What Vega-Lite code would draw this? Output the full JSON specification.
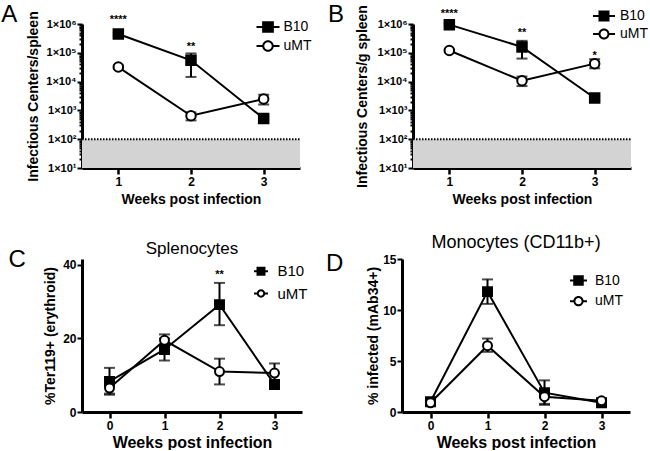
{
"$schema":"https://vega.github.io/schema/vega-lite/v6.json",
"padding":{"left":1,"top":2,"right":0,"bottom":0},
"config":{"view":{"stroke":null},"font":"Liberation Sans",
"axis":{"domainColor":"black","domainWidth":3,"tickColor":"black","tickWidth":2.5,"labelColor":"black","titleColor":"black","labelFont":"Liberation Sans","titleFont":"Liberation Sans","labelFontWeight":"bold","titleFontWeight":"bold","grid":false,"labelFontSize":11,"titleFontSize":14,"labelOverlap":false,"labelBound":false},
"legend":{"labelFont":"Liberation Sans","labelColor":"black","symbolStrokeWidth":0,"symbolFillColor":"black","symbolOpacity":1}},
"datasets":{
"A":[{"week":1,"group":"B10","mean":450000,"lo":390000,"hi":510000},{"week":2,"group":"B10","mean":55000,"lo":14500,"hi":95000},{"week":3,"group":"B10","mean":520,"lo":450,"hi":600},
{"week":1,"group":"uMT","mean":32000,"lo":28000,"hi":36000},{"week":2,"group":"uMT","mean":650,"lo":450,"hi":850},{"week":3,"group":"uMT","mean":2500,"lo":1600,"hi":3500}],
"B":[{"week":1,"group":"B10","mean":950000,"lo":850000,"hi":1050000},{"week":2,"group":"B10","mean":160000,"lo":63000,"hi":260000},{"week":3,"group":"B10","mean":2700,"lo":2300,"hi":3100},
{"week":1,"group":"uMT","mean":120000,"lo":110000,"hi":130000},{"week":2,"group":"uMT","mean":10700,"lo":7000,"hi":15000},{"week":3,"group":"uMT","mean":42000,"lo":29000,"hi":60000}],
"C":[{"week":0,"group":"B10","mean":8.3,"lo":4.7,"hi":12.0},{"week":1,"group":"B10","mean":17.0,"lo":14.0,"hi":20.0},{"week":2,"group":"B10","mean":29.2,"lo":23.6,"hi":35.1},{"week":3,"group":"B10","mean":7.5,"lo":6.7,"hi":8.3},
{"week":0,"group":"uMT","mean":6.5,"lo":5.0,"hi":8.0},{"week":1,"group":"uMT","mean":19.5,"lo":18.0,"hi":21.1},{"week":2,"group":"uMT","mean":11.0,"lo":7.5,"hi":14.5},{"week":3,"group":"uMT","mean":10.6,"lo":8.2,"hi":13.2}],
"D":[{"week":0,"group":"B10","mean":1.0,"lo":0.8,"hi":1.2},{"week":1,"group":"B10","mean":11.8,"lo":10.6,"hi":13.0},{"week":2,"group":"B10","mean":1.9,"lo":0.7,"hi":3.1},{"week":3,"group":"B10","mean":0.9,"lo":0.7,"hi":1.1},
{"week":0,"group":"uMT","mean":0.9,"lo":0.7,"hi":1.1},{"week":1,"group":"uMT","mean":6.5,"lo":5.9,"hi":7.2},{"week":2,"group":"uMT","mean":1.5,"lo":0.8,"hi":2.2},{"week":3,"group":"uMT","mean":1.1,"lo":0.8,"hi":1.3}],
"stars":[{"panel":"A","week":1,"y":1350000,"label":"****"},{"panel":"A","week":2,"y":160000,"label":"**"},{"panel":"B","week":1,"y":2200000,"label":"****"},{"panel":"B","week":2,"y":490000,"label":"**"},{"panel":"B","week":3,"y":79000,"label":"*"},{"panel":"C","week":2,"y":37.3,"label":"**"}]
},
"spacing":28,
"resolve":{"scale":{"shape":"independent","fill":"independent"},"legend":{"shape":"independent","fill":"independent"}},
"vconcat":[
{"hconcat":[
{"width":218,"height":144,"data":{"name":"A"},
"resolve":{"scale":{"shape":"independent"},"legend":{"shape":"independent"}},
"layer":[
{"data":{"values":[{"from":0.5,"to":3.5,"floor":10,"limit":100}]},
 "layer":[
 {"mark":{"type":"rect","color":"#d3d3d3"},"encoding":{"x":{"field":"from","type":"quantitative"},"x2":{"field":"to"},"y":{"field":"floor","type":"quantitative"},"y2":{"field":"limit"}}},
 {"mark":{"type":"rule","strokeDash":[1.5,1.5],"strokeWidth":2,"color":"black"},"encoding":{"x":{"field":"from","type":"quantitative"},"x2":{"field":"to"},"y":{"field":"limit","type":"quantitative"}}}
 ]},
{"mark":{"type":"line","color":"black","strokeWidth":2},"encoding":{
 "x":{"field":"week","type":"quantitative","scale":{"domain":[0.5,3.5],"nice":false,"zero":false},"axis":{"values":[1,2,3],"format":"d","title":"Weeks post infection","labelFontSize":12,"tickSize":6,"titlePadding":5}},
 "y":{"field":"mean","type":"quantitative","scale":{"type":"log","domain":[10,1000000],"nice":false},"axis":{"title":"Infectious Centers/spleen","values":[10,20,30,40,50,60,70,80,90,100,200,300,400,500,600,700,800,900,1000,2000,3000,4000,5000,6000,7000,8000,9000,10000,20000,30000,40000,50000,60000,70000,80000,90000,100000,200000,300000,400000,500000,600000,700000,800000,900000,1000000],"labelExpr":"abs(log(datum.value)/LN10 - round(log(datum.value)/LN10)) < 0.001 ? '1×10' + ['⁰','¹','²','³','⁴','⁵','⁶'][round(log(datum.value)/LN10)] : ''","labelFontSize":11,"labelPadding":1,"tickSize":{"condition":{"test":"abs(log(datum.value)/LN10 - round(log(datum.value)/LN10)) < 0.001","value":5},"value":3},"tickWidth":2,"titlePadding":5}},
 "detail":{"field":"group"}}},
{"mark":{"type":"rule","strokeWidth":2,"color":"black"},"encoding":{"x":{"field":"week","type":"quantitative"},"y":{"field":"lo","type":"quantitative"},"y2":{"field":"hi"}}},
{"mark":{"type":"tick","orient":"horizontal","size":11,"thickness":2,"color":"black"},"encoding":{"x":{"field":"week","type":"quantitative"},"y":{"field":"hi","type":"quantitative"}}},
{"mark":{"type":"tick","orient":"horizontal","size":11,"thickness":2,"color":"black"},"encoding":{"x":{"field":"week","type":"quantitative"},"y":{"field":"lo","type":"quantitative"}}},
{"mark":{"type":"point","filled":false,"opacity":1,"strokeWidth":2,"stroke":"black"},"encoding":{"x":{"field":"week","type":"quantitative"},"y":{"field":"mean","type":"quantitative"},
 "shape":{"field":"group","type":"nominal","scale":{"domain":["B10","uMT"],"range":["square","circle"]},"legend":null},
 "fill":{"field":"group","type":"nominal","scale":{"domain":["B10","uMT"],"range":["black","white"]},"legend":null},
 "size":{"value":90}}},
{"transform":[{"filter":"false"}],"mark":{"type":"point","filled":true,"color":"black","opacity":1},"encoding":{
 "shape":{"field":"group","type":"nominal","scale":{"domain":["B10","uMT"],"range":["M-1,-0.087H1V0.087H-1Z M-0.51,-0.51H0.51V0.51H-0.51Z","M-1,-0.087H-0.42V0.087H-1Z M0.42,-0.087H1V0.087H0.42Z M-0.5,0A0.5,0.5 0 1,1 0.5,0A0.5,0.5 0 1,1 -0.5,0Z M-0.326,0A0.326,0.326 0 1,0 0.326,0A0.326,0.326 0 1,0 -0.326,0Z"]},
 "legend":{"title":null,"orient":"none","legendX":174.5,"legendY":-8.5,"padding":0,"rowPadding":-2.3,"labelOffset":4,"labelFontSize":14,"symbolSize":529,"symbolFillColor":"black","symbolStrokeWidth":0}}}},
{"data":{"name":"stars"},"transform":[{"filter":"datum.panel === 'A'"}],"mark":{"type":"text","fontSize":11,"fontWeight":"bold","align":"center","baseline":"middle","color":"black"},"encoding":{"x":{"field":"week","type":"quantitative"},"y":{"field":"y","type":"quantitative"},"text":{"field":"label"}}},
{"data":{"values":[{"letter":"A"}]},"mark":{"type":"text","fontSize":24,"align":"center","baseline":"middle","color":"black"},"encoding":{"x":{"datum":-0.5},"y":{"datum":2100000},"text":{"field":"letter"}}}
]},
{"width":218,"height":144,"data":{"name":"B"},
"resolve":{"scale":{"shape":"independent"},"legend":{"shape":"independent"}},
"layer":[
{"data":{"values":[{"from":0.5,"to":3.5,"floor":10,"limit":100}]},
 "layer":[
 {"mark":{"type":"rect","color":"#d3d3d3"},"encoding":{"x":{"field":"from","type":"quantitative"},"x2":{"field":"to"},"y":{"field":"floor","type":"quantitative"},"y2":{"field":"limit"}}},
 {"mark":{"type":"rule","strokeDash":[1.5,1.5],"strokeWidth":2,"color":"black"},"encoding":{"x":{"field":"from","type":"quantitative"},"x2":{"field":"to"},"y":{"field":"limit","type":"quantitative"}}}
 ]},
{"mark":{"type":"line","color":"black","strokeWidth":2},"encoding":{
 "x":{"field":"week","type":"quantitative","scale":{"domain":[0.5,3.5],"nice":false,"zero":false},"axis":{"values":[1,2,3],"format":"d","title":"Weeks post infection","labelFontSize":12,"tickSize":6,"titlePadding":5}},
 "y":{"field":"mean","type":"quantitative","scale":{"type":"log","domain":[10,1000000],"nice":false},"axis":{"title":"Infectious Centers/g spleen","values":[10,20,30,40,50,60,70,80,90,100,200,300,400,500,600,700,800,900,1000,2000,3000,4000,5000,6000,7000,8000,9000,10000,20000,30000,40000,50000,60000,70000,80000,90000,100000,200000,300000,400000,500000,600000,700000,800000,900000,1000000],"labelExpr":"abs(log(datum.value)/LN10 - round(log(datum.value)/LN10)) < 0.001 ? '1×10' + ['⁰','¹','²','³','⁴','⁵','⁶'][round(log(datum.value)/LN10)] : ''","labelFontSize":11,"labelPadding":1,"tickSize":{"condition":{"test":"abs(log(datum.value)/LN10 - round(log(datum.value)/LN10)) < 0.001","value":5},"value":3},"tickWidth":2,"titlePadding":7}},
 "detail":{"field":"group"}}},
{"mark":{"type":"rule","strokeWidth":2,"color":"black"},"encoding":{"x":{"field":"week","type":"quantitative"},"y":{"field":"lo","type":"quantitative"},"y2":{"field":"hi"}}},
{"mark":{"type":"tick","orient":"horizontal","size":11,"thickness":2,"color":"black"},"encoding":{"x":{"field":"week","type":"quantitative"},"y":{"field":"hi","type":"quantitative"}}},
{"mark":{"type":"tick","orient":"horizontal","size":11,"thickness":2,"color":"black"},"encoding":{"x":{"field":"week","type":"quantitative"},"y":{"field":"lo","type":"quantitative"}}},
{"mark":{"type":"point","filled":false,"opacity":1,"strokeWidth":2,"stroke":"black"},"encoding":{"x":{"field":"week","type":"quantitative"},"y":{"field":"mean","type":"quantitative"},
 "shape":{"field":"group","type":"nominal","scale":{"domain":["B10","uMT"],"range":["square","circle"]},"legend":null},
 "fill":{"field":"group","type":"nominal","scale":{"domain":["B10","uMT"],"range":["black","white"]},"legend":null},
 "size":{"value":90}}},
{"transform":[{"filter":"false"}],"mark":{"type":"point","filled":true,"color":"black","opacity":1},"encoding":{
 "shape":{"field":"group","type":"nominal","scale":{"domain":["B10","uMT"],"range":["M-1,-0.09H1V0.09H-1Z M-0.5,-0.5H0.5V0.5H-0.5Z","M-1,-0.09H-0.42V0.09H-1Z M0.42,-0.09H1V0.09H0.42Z M-0.5,0A0.5,0.5 0 1,1 0.5,0A0.5,0.5 0 1,1 -0.5,0Z M-0.32,0A0.32,0.32 0 1,0 0.32,0A0.32,0.32 0 1,0 -0.32,0Z"]},
 "legend":{"title":null,"orient":"none","legendX":180,"legendY":-19,"padding":0,"rowPadding":-4,"labelOffset":5,"labelFontSize":14,"symbolSize":484,"symbolFillColor":"black","symbolStrokeWidth":0}}}},
{"data":{"name":"stars"},"transform":[{"filter":"datum.panel === 'B'"}],"mark":{"type":"text","fontSize":11,"fontWeight":"bold","align":"center","baseline":"middle","color":"black"},"encoding":{"x":{"field":"week","type":"quantitative"},"y":{"field":"y","type":"quantitative"},"text":{"field":"label"}}},
{"data":{"values":[{"letter":"B"}]},"mark":{"type":"text","fontSize":24,"align":"center","baseline":"middle","color":"black"},"encoding":{"x":{"datum":-0.56},"y":{"datum":2000000},"text":{"field":"letter"}}}
]}
],"spacing":113,"bounds":"flush","resolve":{"scale":{"shape":"independent","fill":"independent"},"legend":{"shape":"independent","fill":"independent"}}},
{"hconcat":[
{"width":220,"height":153,"data":{"name":"C"},
"resolve":{"scale":{"shape":"independent"},"legend":{"shape":"independent"}},
"title":{"text":"Splenocytes","fontSize":17,"fontWeight":"normal","font":"Liberation Sans","color":"black","offset":-10},
"layer":[
{"mark":{"type":"line","color":"black","strokeWidth":2},"encoding":{
 "x":{"field":"week","type":"quantitative","scale":{"domain":[-0.5,3.5],"nice":false,"zero":false},"axis":{"values":[0,1,2,3],"format":"d","title":"Weeks post infection","labelFontSize":12,"titleFontSize":16,"tickSize":6,"titlePadding":3}},
 "y":{"field":"mean","type":"quantitative","scale":{"domain":[0,41.6],"nice":false},"axis":{"title":"%Ter119+ (erythroid)","values":[0,5,10,15,20,25,30,35,40],"labelExpr":"datum.value % 10 === 0 ? datum.label : ''","labelFontSize":12,"labelPadding":1,"tickSize":{"condition":{"test":"datum.value % 10 === 0","value":5},"value":3},"tickWidth":2,"titlePadding":5}},
 "detail":{"field":"group"}}},
{"mark":{"type":"rule","strokeWidth":2,"color":"black"},"encoding":{"x":{"field":"week","type":"quantitative"},"y":{"field":"lo","type":"quantitative"},"y2":{"field":"hi"}}},
{"mark":{"type":"tick","orient":"horizontal","size":11,"thickness":2,"color":"black"},"encoding":{"x":{"field":"week","type":"quantitative"},"y":{"field":"hi","type":"quantitative"}}},
{"mark":{"type":"tick","orient":"horizontal","size":11,"thickness":2,"color":"black"},"encoding":{"x":{"field":"week","type":"quantitative"},"y":{"field":"lo","type":"quantitative"}}},
{"mark":{"type":"point","filled":false,"opacity":1,"strokeWidth":2,"stroke":"black"},"encoding":{"x":{"field":"week","type":"quantitative"},"y":{"field":"mean","type":"quantitative"},
 "shape":{"field":"group","type":"nominal","scale":{"domain":["B10","uMT"],"range":["square","circle"]},"legend":null},
 "fill":{"field":"group","type":"nominal","scale":{"domain":["B10","uMT"],"range":["black","white"]},"legend":null},
 "size":{"value":80}}},
{"transform":[{"filter":"false"}],"mark":{"type":"point","filled":true,"color":"black","opacity":1},"encoding":{
 "shape":{"field":"group","type":"nominal","scale":{"domain":["B10","uMT"],"range":["M-1,-0.143H1V0.143H-1Z M-0.64,-0.64H0.64V0.64H-0.64Z","M-1,-0.143H-0.5V0.143H-1Z M0.5,-0.143H1V0.143H0.5Z M-0.6,0A0.6,0.6 0 1,1 0.6,0A0.6,0.6 0 1,1 -0.6,0Z M-0.314,0A0.314,0.314 0 1,0 0.314,0A0.314,0.314 0 1,0 -0.314,0Z"]},
 "legend":{"title":null,"orient":"none","legendX":171.5,"legendY":4.7,"padding":0,"rowPadding":6.3,"labelOffset":9,"labelFontSize":15,"symbolSize":196,"symbolFillColor":"black","symbolStrokeWidth":0}}}},
{"data":{"name":"stars"},"transform":[{"filter":"datum.panel === 'C'"}],"mark":{"type":"text","fontSize":11,"fontWeight":"bold","align":"center","baseline":"middle","color":"black"},"encoding":{"x":{"field":"week","type":"quantitative"},"y":{"field":"y","type":"quantitative"},"text":{"field":"label"}}},
{"data":{"values":[{"letter":"C"}]},"mark":{"type":"text","fontSize":24,"align":"center","baseline":"middle","color":"black"},"encoding":{"x":{"datum":-1.68},"y":{"datum":41.3},"text":{"field":"letter"}}}
]},
{"width":228,"height":153,"data":{"name":"D"},
"resolve":{"scale":{"shape":"independent"},"legend":{"shape":"independent"}},
"title":{"text":"Monocytes (CD11b+)","fontSize":18,"fontWeight":"normal","font":"Liberation Sans","color":"black","offset":0},
"layer":[
{"mark":{"type":"line","color":"black","strokeWidth":2},"encoding":{
 "x":{"field":"week","type":"quantitative","scale":{"domain":[-0.5,3.5],"nice":false,"zero":false},"axis":{"values":[0,1,2,3],"format":"d","title":"Weeks post infection","labelFontSize":12,"titleFontSize":16,"tickSize":6,"titlePadding":3}},
 "y":{"field":"mean","type":"quantitative","scale":{"domain":[0,15],"nice":false},"axis":{"title":"% infected (mAb34+)","values":[0,2.5,5,7.5,10,12.5,15],"labelExpr":"datum.value % 5 === 0 ? datum.label : ''","labelFontSize":12,"labelPadding":1,"tickSize":{"condition":{"test":"datum.value % 5 === 0","value":5},"value":3},"tickWidth":2,"titlePadding":2}},
 "detail":{"field":"group"}}},
{"mark":{"type":"rule","strokeWidth":2,"color":"black"},"encoding":{"x":{"field":"week","type":"quantitative"},"y":{"field":"lo","type":"quantitative"},"y2":{"field":"hi"}}},
{"mark":{"type":"tick","orient":"horizontal","size":11,"thickness":2,"color":"black"},"encoding":{"x":{"field":"week","type":"quantitative"},"y":{"field":"hi","type":"quantitative"}}},
{"mark":{"type":"tick","orient":"horizontal","size":11,"thickness":2,"color":"black"},"encoding":{"x":{"field":"week","type":"quantitative"},"y":{"field":"lo","type":"quantitative"}}},
{"mark":{"type":"point","filled":false,"opacity":1,"strokeWidth":2,"stroke":"black"},"encoding":{"x":{"field":"week","type":"quantitative"},"y":{"field":"mean","type":"quantitative"},
 "shape":{"field":"group","type":"nominal","scale":{"domain":["B10","uMT"],"range":["square","circle"]},"legend":null},
 "fill":{"field":"group","type":"nominal","scale":{"domain":["B10","uMT"],"range":["black","white"]},"legend":null},
 "size":{"value":80}}},
{"transform":[{"filter":"false"}],"mark":{"type":"point","filled":true,"color":"black","opacity":1},"encoding":{
 "shape":{"field":"group","type":"nominal","scale":{"domain":["B10","uMT"],"range":["M-1,-0.118H1V0.118H-1Z M-0.62,-0.62H0.62V0.62H-0.62Z","M-1,-0.118H-0.5V0.118H-1Z M0.5,-0.118H1V0.118H0.5Z M-0.6,0A0.6,0.6 0 1,1 0.6,0A0.6,0.6 0 1,1 -0.6,0Z M-0.365,0A0.365,0.365 0 1,0 0.365,0A0.365,0.365 0 1,0 -0.365,0Z"]},
 "legend":{"title":null,"orient":"none","legendX":168,"legendY":13,"padding":0,"rowPadding":4.7,"labelOffset":8,"labelFontSize":14,"symbolSize":289,"symbolFillColor":"black","symbolStrokeWidth":0}}}},
{"data":{"values":[{"letter":"D"}]},"mark":{"type":"text","fontSize":24,"align":"center","baseline":"middle","color":"black"},"encoding":{"x":{"datum":-1.68},"y":{"datum":14.5},"text":{"field":"letter"}}}
]}
],"spacing":100,"bounds":"flush","resolve":{"scale":{"shape":"independent","fill":"independent"},"legend":{"shape":"independent","fill":"independent"}}}
]
}
